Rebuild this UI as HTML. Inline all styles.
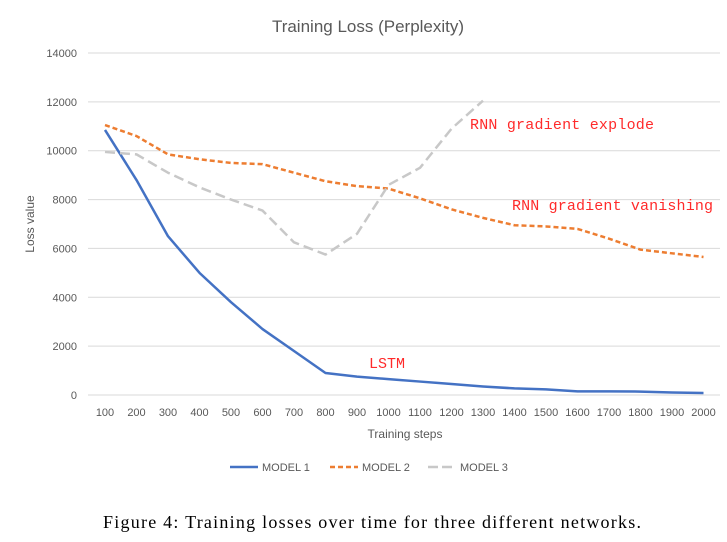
<!DOCTYPE html>
<html><head><meta charset="utf-8"><style>
body{margin:0;background:#fff;width:727px;height:537px;overflow:hidden}
svg text{font-family:"Liberation Sans",sans-serif}
</style></head><body>
<svg width="727" height="537">
<text x="368" y="32" text-anchor="middle" font-size="17" fill="#595959">Training Loss (Perplexity)</text>
<g id="grid"></g><g id="yt"></g><g id="xt"></g><g id="lines"></g>
<text transform="translate(34,224) rotate(-90)" text-anchor="middle" font-size="12" fill="#595959">Loss value</text>
<text x="405" y="438" text-anchor="middle" font-size="12" fill="#595959">Training steps</text>
<g font-size="15" fill="#ff2a2a">
<text x="470" y="129" textLength="184" style="font-family:'Liberation Mono',monospace">RNN gradient explode</text>
<text x="512" y="210" textLength="201" style="font-family:'Liberation Mono',monospace">RNN gradient vanishing</text>
<text x="369" y="368" style="font-family:'Liberation Mono',monospace">LSTM</text>
</g>
<g font-size="11" fill="#595959">
<line x1="230" y1="467" x2="258" y2="467" stroke="#4472c4" stroke-width="2.5"/>
<text x="262" y="471">MODEL 1</text>
<line x1="330" y1="467" x2="358" y2="467" stroke="#ed7d31" stroke-width="2.5" stroke-dasharray="5,3"/>
<text x="362" y="471">MODEL 2</text>
<line x1="428" y1="467" x2="456" y2="467" stroke="#c8c8c8" stroke-width="2.5" stroke-dasharray="10,4"/>
<text x="460" y="471">MODEL 3</text>
</g>
<text x="103" y="528" textLength="538" font-size="18" style="font-family:'Liberation Serif',serif" fill="#000">Figure 4:  Training losses over time for three different networks.</text>
</svg>
<script>
const categories=[100,200,300,400,500,600,700,800,900,1000,1100,1200,1300,1400,1500,1600,1700,1800,1900,2000];
const model1=[10850,8800,6500,5000,3800,2700,1800,900,750,650,550,450,350,270,230,150,150,140,100,80];
const model2=[11050,10600,9850,9650,9500,9450,9100,8750,8550,8450,8050,7600,7250,6950,6900,6800,6400,5950,5800,5650];
const model3=[9950,9850,9100,8500,8000,7550,6250,5750,6600,8600,9300,10900,12050];
const yTicks=[0,2000,4000,6000,8000,10000,12000,14000];
const NS="http://www.w3.org/2000/svg";
const x0=105,dx=31.5,y0=395,ymax=14000,yh=342;
const X=i=>x0+i*dx, Y=v=>y0-v/ymax*yh;
function mk(t,a,p){const e=document.createElementNS(NS,t);for(const k in a)e.setAttribute(k,a[k]);document.getElementById(p).appendChild(e);return e;}
yTicks.forEach(v=>{
 const l=mk('line',{x1:88,x2:720,y1:Y(v),y2:Y(v),stroke:'#d9d9d9','stroke-width':1},'grid');
 
 
 const t=mk('text',{x:77,y:Y(v)+4,'text-anchor':'end','font-size':11,fill:'#595959'},'yt');
 t.textContent=v;
 
 
});
categories.forEach((c,i)=>{
 const t=mk('text',{x:X(i),y:416,'text-anchor':'middle','font-size':11,fill:'#595959'},'xt');
 t.textContent=c;
 
 
});
[[model1,'#4472c4','none','model1-line'],[model2,'#ed7d31','5,3','model2-line'],[model3,'#c8c8c8','10,5','model3-line']].forEach(([d,c,da,n])=>{
 const p=mk('polyline',{points:d.map((v,i)=>X(i)+','+Y(v)).join(' '),fill:'none',stroke:c,'stroke-width':2.5,'stroke-dasharray':da,'stroke-linejoin':'round'},'lines');
 
 
});
</script>
</body></html>
